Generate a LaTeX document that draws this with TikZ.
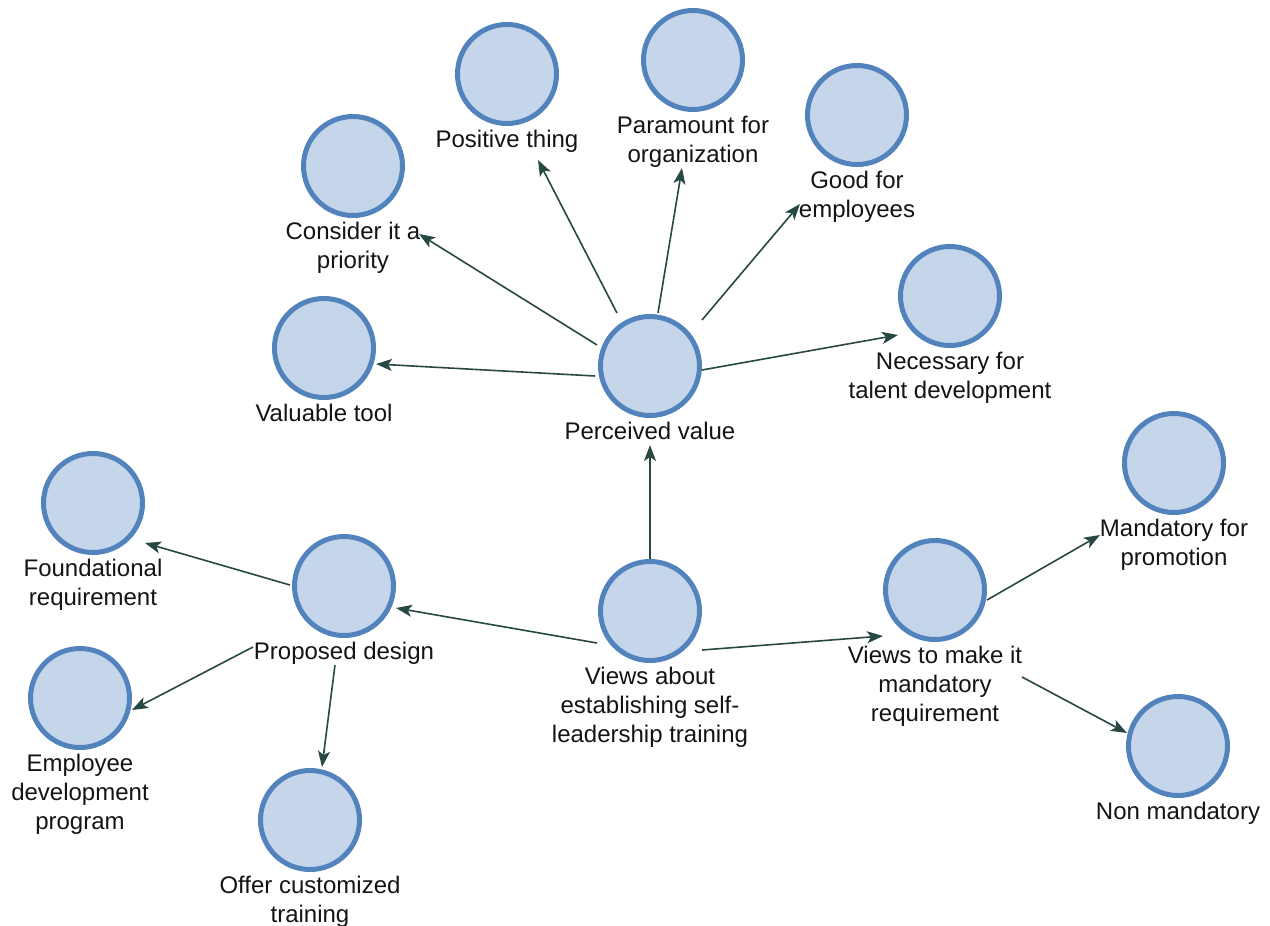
\documentclass[tikz,border=0pt]{standalone}
\usepackage{fontspec}
\setmainfont{Liberation Sans}
\usetikzlibrary{arrows.meta,calc}

\definecolor{ringblue}{RGB}{82,131,189}
\definecolor{discfill}{RGB}{197,214,234}
\definecolor{linkgray}{RGB}{40,72,68}
\definecolor{labeltext}{RGB}{20,20,20}

\tikzset{
  ideadisc/.style={circle, draw=ringblue, fill=discfill, line width=5pt,
                   minimum size=99pt, inner sep=0pt},
  ideacap/.style={anchor=north, inner sep=0pt, align=center, text=labeltext,
                  font=\fontsize{24}{29}\selectfont},
  link/.style={draw=linkgray, line width=1.6pt,
               -{Stealth[length=16pt,width=12pt,inset=4pt]}},
}

% disc plus caption underneath: name, x, y, caption
\newcommand\placeidea[4]{%
  \node[ideadisc] (c-#1) at (#2,#3) {};
  \node[ideacap] (l-#1) at (#2,#3+56) {#4};
}

\begin{document}
\begin{tikzpicture}[x=1pt,y=-1pt]
  \useasboundingbox[fill=white] (0,0) rectangle (1270,926);

  \placeidea{pos}{507}{74}{Positive thing}
  \placeidea{par}{693}{60}{Paramount for\\organization}
  \placeidea{good}{857}{115}{Good for\\employees}
  \placeidea{con}{353}{166}{Consider it a\\priority}
  \placeidea{nec}{950}{296}{Necessary for\\talent development}
  \placeidea{vt}{324}{348}{Valuable tool}
  \placeidea{pv}{650}{366}{Perceived value}
  \placeidea{fnd}{93}{503}{Foundational\\requirement}
  \placeidea{pd}{344}{586}{Proposed design}
  \placeidea{va}{650}{611}{Views about\\establishing self-\\leadership training}
  \placeidea{vtm}{935}{590}{Views to make it\\mandatory\\requirement}
  \placeidea{mfp}{1174}{463}{Mandatory for\\promotion}
  \placeidea{edp}{80}{698}{Employee\\development\\program}
  \placeidea{oct}{310}{820}{Offer customized\\training}
  \placeidea{nm}{1178}{746}{Non mandatory}

  % perceived value branches
  \draw[link] ($(c-pv)+(-55,10)$)  -- ($(c-vt)+(52,16)$);
  \draw[link] ($(c-pv)+(-53,-21)$) -- ($(c-con)+(66,68)$);
  \draw[link] ($(c-pv)+(-33,-53)$) -- ($(c-pos)+(31,86)$);
  \draw[link] ($(c-pv)+(8,-53)$)   -- ($(c-par)+(-11,108)$);
  \draw[link] ($(c-pv)+(52,-46)$)  -- ($(c-good)+(-57,89)$);
  \draw[link] ($(c-pv)+(52,4)$)    -- ($(c-nec)+(-52,39)$);

  % central theme
  \draw[link] ($(c-va)+(0,-52)$)   -- ($(c-pv)+(0,79)$);
  \draw[link] ($(c-va)+(-53,32)$)  -- ($(c-pd)+(52,22)$);
  \draw[link] ($(c-va)+(52,39)$)   -- ($(c-vtm)+(-52,46)$);

  % proposed design branches
  \draw[link] ($(c-pd)+(-54,-1)$)  -- ($(c-fnd)+(52,40)$);
  \draw[link] ($(c-pd)+(-91,61)$)  -- ($(c-edp)+(52,12)$);
  \draw[link] ($(c-pd)+(-9,79)$)   -- ($(c-oct)+(12,-53)$);

  % mandatory requirement branches
  \draw[link] ($(c-vtm)+(52,10)$)  -- ($(c-mfp)+(-74,72)$);
  \draw[link] ($(c-vtm)+(87,87)$)  -- ($(c-nm)+(-51,-13)$);
\end{tikzpicture}
\end{document}
